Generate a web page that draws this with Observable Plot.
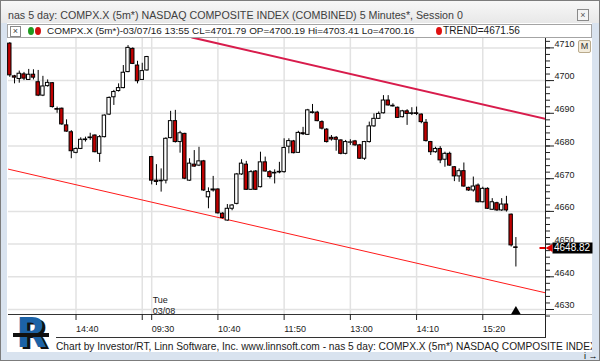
<!DOCTYPE html>
<html>
<head>
<meta charset="utf-8">
<script src="https://cdn.jsdelivr.net/npm/d3@7"></script>
<script src="https://cdn.jsdelivr.net/npm/@observablehq/plot@0.6"></script>
<style>
html, body { margin: 0; padding: 0; background: #fff; }
#win { position: relative; width: 600px; height: 361px; overflow: hidden; background: #d9e3ef; font-family: "Liberation Sans", Arial, sans-serif; }
#titlebar { position: absolute; left: 0; top: 0; width: 600px; height: 23px; background: linear-gradient(#f8f8f8, #e8e8e8); }
#title { position: absolute; left: 8px; top: 8px; line-height: 14px; color: #404040; white-space: nowrap; font-size: 11px; }
#closebox { position: absolute; left: 577px; top: 9px; width: 10px; height: 10px; border: 1px solid #8a8a8a; background: #f4f4f4; font-size: 9px; line-height: 10px; text-align: center; color: #555; }
#content { position: absolute; left: 7px; top: 23px; width: 585px; height: 329px; background: #fff; }
#legend { position: absolute; left: 7px; top: 24px; width: 585px; height: 14px; box-sizing: border-box; border: 1px solid #a4a4a4; background: #fff; }
#lx { position: absolute; left: 2px; top: 1px; width: 9px; height: 9px; border: 1px solid #888; font-size: 9px; line-height: 9px; text-align: center; color: #444; }
.ldot { position: absolute; top: 2px; width: 6px; height: 8px; border-radius: 50%; }
.ltext { position: absolute; top: 0px; line-height: 12px; white-space: nowrap; color: #1a1a1a; font-size: 10px; }
#svgwrap { position: absolute; left: 0; top: 0; }
#vline { position: absolute; left: 545px; top: 38px; width: 1px; height: 299px; background: #222; }
#capline { position: absolute; left: 56px; top: 337px; width: 490px; height: 1px; background: #333; }
#grayline { position: absolute; left: 546px; top: 314px; width: 46px; height: 1px; background: #c8c8c8; }
#caption { position: absolute; left: 56px; top: 340px; width: 536px; height: 14px; overflow: hidden; white-space: nowrap; line-height: 14px; color: #1a1a1a; font-size: 10px; }
#mbtn { position: absolute; left: 578px; top: 40px; width: 11px; height: 11px; border: 1px solid #b9aa8c; border-radius: 2px; background: #f3ecdc; font-size: 9px; line-height: 11px; text-align: center; color: #333; }
#logo { position: absolute; left: 12px; top: 313px; width: 40px; height: 42px; }
#logoR { position: absolute; left: 4px; top: -3px; font: bold 40px "DejaVu Sans", "Liberation Sans", sans-serif; color: #1c62a6; text-shadow: 3px 2px 0 #111; line-height: 46px; }
#logoBand { position: absolute; left: 1px; top: 20px; width: 36px; height: 4px; background: #111; z-index: 2; }
#frameBorder { position: absolute; left: 0; top: 0; width: 600px; height: 361px; box-sizing: border-box; border: 1px solid #7c7c7c; pointer-events: none; }
</style>
</head>
<body>
<div id="win">
  <div id="titlebar"></div>
  <div id="title"></div>
  <div id="closebox">×</div>
  <div id="content"></div>
  <div id="legend">
    <div id="lx">×</div>
    <div class="ldot" style="left:20px;background:#1f9b1f;"></div>
    <div class="ldot" style="left:27px;background:#d01010;"></div>
    <div class="ltext" id="legMain" style="left:39px;"></div>
    <div class="ldot" style="left:428px;background:#e01010;"></div>
    <div class="ltext" id="legTrend" style="left:435px;"></div>
  </div>
  <div id="svgwrap"></div>
  <div id="vline"></div>
  <div id="capline"></div>
  <div id="grayline"></div>
  <div id="caption"></div>
  <div id="mbtn">M</div>
  <div id="logo"><div id="logoR">R</div><div id="logoBand"></div></div>
  <div id="frameBorder"></div>
</div>
<script>
// ---------- data ----------
const titleText = "nas 5 day: COMPX.X (5m*) NASDAQ COMPOSITE INDEX (COMBINED) 5 Minutes*, Session 0";
const legendText = "COMPX.X (5m*)-03/07/16 13:55 CL=4701.79 OP=4700.19 Hi=4703.41 Lo=4700.16";
const trendText = "TREND=4671.56";
const captionText = "Chart by Investor/RT, Linn Software, Inc. www.linnsoft.com - nas 5 day: COMPX.X (5m*) NASDAQ COMPOSITE INDEX (COMBINED) 5 Minutes*, Session 0";

// 5-minute bars: Mon 03/07 13:30-15:55, Tue 03/08 09:30-15:55
const opens = [
4711.3,4701.3,4700.5,4701.9,4700.19,4701.8,4699.5,4695.4,4698.3,4699.2,
4691.3,4691.4,4686.3,4684.2,4677.9,4679.1,4681.8,4682.4,4683.2,4677.6,
4682.7,4689.6,4694.9,4696.8,4697.7,4702.6,4709.7,4704.6,4700.2,4703.1,
4676.6,4669.4,4669.2,4669.4,4682.4,4687.6,4681.2,4683.7,4669.4,4674.3,
4674.0,4675.3,4664.3,4666.4,4666.7,4659.3,4657.2,4660.8,4662.3,4671.3,
4674.3,4666.6,4672.2,4667.4,4675.0,4672.0,4671.6,4671.9,4672.0,4679.8,
4681.4,4677.9,4683.9,4683.4,4690.1,4690.2,4687.3,4685.0,4682.5,4682.5,
4681.7,4677.6,4681.0,4681.4,4680.2,4676.1,4681.2,4686.0,4688.3,4690.0,
4693.9,4692.3,4691.7,4688.8,4690.6,4689.8,4690.0,4689.6,4687.1,4681.2,
4678.1,4679.1,4675.8,4677.6,4673.5,4670.7,4672.3,4667.2,4666.4,4667.9,
4662.8,4666.9,4660.5,4662.5,4660.3,4662.1,4659.0,4649.0];
const highs = [
4711.6,4701.6,4702.9,4702.5,4703.41,4703.3,4703.1,4701.3,4700.2,4699.4,
4691.9,4691.6,4688.0,4684.7,4679.4,4682.5,4682.7,4683.9,4683.4,4683.2,
4689.5,4695.0,4697.0,4699.0,4704.6,4710.7,4710.0,4705.9,4705.3,4707.4,
4676.8,4674.3,4673.0,4682.5,4690.6,4690.9,4684.5,4683.9,4676.1,4678.6,
4679.6,4675.6,4667.2,4670.7,4666.9,4659.6,4662.1,4662.1,4671.6,4675.8,
4675.3,4672.5,4672.5,4678.1,4676.6,4672.5,4672.7,4675.0,4682.2,4682.2,
4681.7,4684.5,4685.7,4691.2,4692.7,4690.6,4687.7,4685.3,4683.2,4682.9,
4681.9,4681.7,4681.9,4681.7,4680.5,4681.4,4687.3,4689.8,4690.4,4695.4,
4695.4,4692.9,4691.9,4690.9,4691.1,4691.7,4691.9,4689.8,4688.1,4681.4,
4679.6,4679.8,4678.1,4678.1,4673.7,4673.0,4674.8,4667.4,4670.5,4668.4,
4667.4,4667.2,4663.9,4662.8,4663.9,4664.6,4659.2,4652.0];
const lows = [
4701.0,4699.0,4699.2,4700.0,4700.16,4700.2,4695.1,4695.1,4698.0,4691.6,
4690.0,4686.3,4684.2,4676.1,4677.6,4678.9,4681.2,4681.7,4677.9,4675.0,
4682.5,4689.3,4692.4,4696.5,4697.5,4702.4,4704.9,4699.0,4700.0,4702.9,
4668.1,4667.9,4665.9,4668.4,4682.2,4680.9,4677.8,4669.7,4669.2,4673.5,
4673.7,4666.1,4660.8,4665.9,4659.2,4657.7,4657.0,4660.2,4662.0,4671.0,
4666.4,4666.4,4666.4,4667.2,4672.0,4669.9,4668.4,4671.5,4671.7,4677.6,
4677.6,4677.8,4683.2,4683.2,4689.8,4687.4,4684.9,4680.9,4681.5,4678.4,
4677.3,4677.3,4680.2,4679.9,4675.9,4675.6,4680.9,4685.7,4688.1,4689.8,
4692.2,4691.9,4688.4,4688.6,4686.3,4689.3,4689.3,4686.8,4681.2,4677.1,
4677.8,4674.6,4673.5,4673.8,4669.1,4668.9,4667.4,4666.1,4665.9,4662.6,
4662.6,4660.6,4660.3,4660.0,4660.0,4659.8,4649.1,4643.0];
const closes = [
4701.6,4700.9,4702.1,4700.6,4701.79,4700.9,4695.4,4698.2,4699.3,4691.9,
4691.1,4686.6,4684.4,4678.4,4679.1,4681.9,4682.0,4682.6,4678.1,4682.7,
4689.3,4694.7,4696.5,4697.7,4702.4,4710.0,4705.1,4699.8,4702.9,4707.2,
4669.4,4669.0,4669.4,4682.2,4687.6,4681.2,4683.9,4670.0,4674.6,4673.7,
4675.3,4666.4,4665.9,4666.7,4659.4,4658.0,4660.8,4661.8,4671.3,4674.6,
4666.6,4672.0,4666.6,4675.0,4672.2,4670.5,4671.8,4672.1,4679.4,4681.5,
4677.8,4684.0,4683.6,4690.9,4690.3,4687.6,4685.3,4681.2,4682.0,4681.9,
4677.6,4681.2,4681.1,4680.2,4676.1,4681.2,4686.0,4688.3,4689.8,4693.9,
4692.4,4692.1,4688.6,4690.6,4689.8,4690.0,4689.8,4687.3,4681.5,4678.1,
4679.1,4675.6,4677.6,4674.0,4670.7,4672.3,4667.6,4666.4,4667.6,4662.8,
4666.9,4660.8,4662.8,4660.3,4662.1,4660.3,4649.6,4648.82];

// time axis: bar index of each labelled tick
const tickIdx = [14, 28, 30, 44, 58, 72, 86, 100];
const tickLabels = ["14:40", "", "09:30", "10:40", "11:50", "13:00", "14:10", "15:20"];
const dayLabel = "Tue\n03/08";
const dayIdx = 30;

// price axis
const yTicks = [4630, 4640, 4650, 4660, 4670, 4680, 4690, 4700, 4710];
const yMinor = d3.range(4628, 4714, 2);

// trend channel (bar index, price)
const upperTrendIdx = [38.5, 113.26];
const upperTrendVal = [4713.2, 4688.3];
const lowerTrendIdx = [-0.275, 113.26];
const lowerTrendVal = [4672.9, 4635.1];

const xDomain = [-0.275, 113.26];
const yDomain = [4628.47, 4712.87];

// ---------- build ----------
const candles = opens.map((o, i) => ({i, open: o, high: highs[i], low: lows[i], close: closes[i]}));
const upper = upperTrendIdx.map((i, k) => ({i, v: upperTrendVal[k]}));
const lower = lowerTrendIdx.map((i, k) => ({i, v: lowerTrendVal[k]}));
const last = candles[candles.length - 1];

const arrowSymbol = {
  draw(ctx) {
    ctx.moveTo(0, 0); ctx.lineTo(7, -4); ctx.lineTo(7, 4); ctx.closePath();
    ctx.moveTo(-6, -1); ctx.lineTo(0, -1); ctx.lineTo(0, 1); ctx.lineTo(-6, 1); ctx.closePath();
  }
};
const boxSymbol = {
  draw(ctx) { ctx.rect(7, -5.5, 40, 11); }
};

const chart = Plot.plot({
  width: 600,
  height: 361,
  marginTop: 38,
  marginRight: 55,
  marginBottom: 47,
  marginLeft: 8,
  x: {type: "linear", domain: xDomain},
  y: {type: "linear", domain: yDomain},
  style: {background: "transparent", fontFamily: "'Liberation Sans', Arial, sans-serif", fontSize: "9px", overflow: "visible"},
  marks: [
    Plot.gridY(yTicks, {stroke: "#e2e2e2", strokeOpacity: 1, strokeWidth: 1.5}),
    Plot.gridX(tickIdx, {stroke: "#e2e2e2", strokeOpacity: 1, strokeWidth: 1.5}),
    Plot.line(lower, {x: "i", y: "v", stroke: "#ff1a1a", strokeWidth: 1, clip: true}),
    Plot.line(upper, {x: "i", y: "v", stroke: "#d81c4c", strokeWidth: 2, clip: true}),
    Plot.ruleX(candles, {x: "i", y1: "low", y2: "high", stroke: "#000", strokeWidth: 1}),
    Plot.rect(candles, {
      x1: d => d.i - 0.36, x2: d => d.i + 0.36,
      y1: "open", y2: "close",
      fill: d => d.close < d.open ? "#c00000" : "#ffffff",
      stroke: "#000", strokeWidth: 1
    }),
    Plot.ruleY([yDomain[0]], {stroke: "#333", strokeWidth: 1.2}),
    Plot.axisY(yMinor, {anchor: "right", tickSize: 4, tickFormat: () => "", stroke: "#222"}),
    Plot.axisY(yTicks, {anchor: "right", tickSize: 8, tickFormat: () => "", stroke: "#222"}),
    Plot.text(yTicks, {y: d => d, frameAnchor: "right", text: d => String(d), textAnchor: "start", dx: 9, dy: -4, fill: "#222", fontSize: 9}),
    Plot.axisX(tickIdx, {anchor: "bottom", tickSize: 6, tickFormat: () => "", stroke: "#222"}),
    Plot.text(tickIdx, {x: d => d, text: (d, i) => tickLabels[i], frameAnchor: "bottom", dy: 17, textAnchor: "start", fill: "#222", fontSize: 9}),
    Plot.text([dayLabel], {x: () => dayIdx, text: d => d, frameAnchor: "bottom", lineAnchor: "bottom", lineHeight: 1.2, dy: -1, dx: 1, textAnchor: "start", fill: "#222", fontSize: 9}),
    Plot.dot([last], {x: "i", frameAnchor: "bottom", symbol: "triangle", r: 3.6, fill: "#000", stroke: null, dy: -3}),
    Plot.dot([last], {y: "close", frameAnchor: "right", symbol: boxSymbol, fill: "#000", stroke: null}),
    Plot.dot([last], {y: "close", frameAnchor: "right", symbol: arrowSymbol, fill: "#e00000", stroke: null}),
    Plot.text([last], {y: "close", frameAnchor: "right", text: d => d.close.toFixed(2), textAnchor: "start", dx: 8.5, fill: "#fff", fontSize: 10})
  ]
});
document.getElementById("svgwrap").appendChild(chart);

// ---------- texts ----------
function fit(el, text, measureText, target) {
  el.textContent = text;
  const cs = getComputedStyle(el);
  const ctx = document.createElement("canvas").getContext("2d");
  ctx.font = `20px ${cs.fontFamily}`;
  const w = ctx.measureText(measureText).width;
  el.style.fontSize = (20 * target / w).toFixed(2) + "px";
}
fit(document.getElementById("title"), titleText, titleText, 455);
fit(document.getElementById("legMain"), legendText, legendText, 368);
fit(document.getElementById("legTrend"), trendText, trendText, 77);
fit(document.getElementById("caption"), captionText, captionText.slice(0, captionText.indexOf("INDEX") + 4), 535);
</script>
</body>
</html>
